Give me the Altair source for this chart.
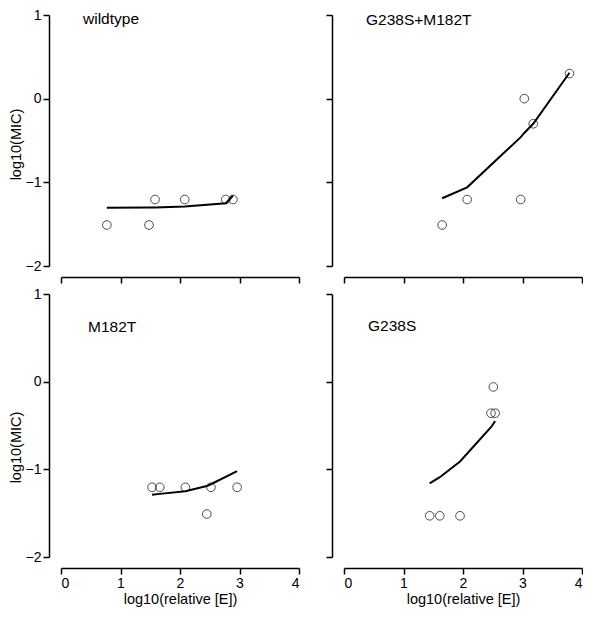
import altair as alt
import pandas as pd

# ---- data ----
panel_names = ["wildtype", "G238S+M182T", "M182T", "G238S"]

wt_x = [0.77, 1.48, 1.58, 2.08, 2.77, 2.89]
wt_y = [-1.51, -1.51, -1.205, -1.205, -1.205, -1.205]
wt_fit = [-1.305, -1.30, -1.30, -1.29, -1.25, -1.16]

gm_x = [1.65, 2.07, 2.97, 3.03, 3.18, 3.79]
gm_y = [-1.51, -1.205, -1.205, 0.0, -0.30, 0.30]
gm_fit = [-1.19, -1.06, -0.46, -0.41, -0.30, 0.31]

m_x = [1.53, 1.66, 2.09, 2.45, 2.52, 2.96]
m_y = [-1.205, -1.205, -1.205, -1.51, -1.205, -1.205]
m_fit = [-1.29, -1.28, -1.25, -1.19, -1.17, -1.02]

g_x = [1.44, 1.61, 1.95, 2.47, 2.51, 2.54]
g_y = [-1.53, -1.53, -1.53, -0.36, -0.06, -0.36]
g_fit = [-1.16, -1.09, -0.91, -0.52, -0.48, -0.45]

x_ticks = [0, 1, 2, 3, 4]
y_ticks = [-2, -1, 0, 1]
x_title = "log10(relative [E])"
y_title = "log10(MIC)"

FONT = "Liberation Sans"
W = 238
H_TOP, H_BOT = 251, 263


def panel(name, xs, ys, fit, lab_x, lab_y, show_x, show_y, h, title_y):
    pts = pd.DataFrame({"x": xs, "y": ys})
    fitdf = pd.DataFrame({"x": xs, "y": fit})
    lab = pd.DataFrame({"label": [name]})
    xscale = alt.Scale(domain=[0, 4], nice=False, zero=False)
    yscale = alt.Scale(domain=[-2, 1], nice=False, zero=False)
    xaxis_kw = dict(values=x_ticks, format="d", offset=11, tickSize=6, grid=False,
                    labels=show_x, labelPadding=2, titlePadding=2,
                    labelFontSize=14, titleFontSize=14.5, titleFontWeight="normal",
                    domainWidth=1.5, tickWidth=1.5)
    yaxis_kw = dict(values=y_ticks, format="d", offset=12, tickSize=6, grid=False,
                    labels=show_y, labelPadding=2, titlePadding=2,
                    labelFontSize=14, titleFontSize=14.5, titleFontWeight="normal",
                    domainWidth=1.5, tickWidth=1.5, titleY=title_y)
    if show_x:
        xaxis = alt.Axis(title=x_title, **xaxis_kw)
    else:
        xaxis = alt.Axis(title=None, **xaxis_kw)
    if show_y:
        yaxis = alt.Axis(title=y_title, **yaxis_kw)
    else:
        yaxis = alt.Axis(title=None, **yaxis_kw)

    points = alt.Chart(pts).mark_point(
        shape="circle", filled=False, color="black", size=75, strokeWidth=1
    ).encode(
        x=alt.X("x:Q", scale=xscale, axis=xaxis),
        y=alt.Y("y:Q", scale=yscale, axis=yaxis),
    )
    line = alt.Chart(fitdf).mark_line(color="black", strokeWidth=2).encode(
        x=alt.X("x:Q", scale=xscale), y=alt.Y("y:Q", scale=yscale)
    )
    text = alt.Chart(lab).mark_text(
        align="left", baseline="alphabetic", fontSize=15.5, font=FONT, color="black"
    ).encode(text="label:N", x=alt.value(lab_x), y=alt.value(lab_y))
    return alt.layer(points, line, text).properties(width=W, height=h)


p1 = panel(panel_names[0], wt_x, wt_y, wt_fit, 22, 9, False, True, H_TOP, 129)
p2 = panel(panel_names[1], gm_x, gm_y, gm_fit, 22, 9.5, False, False, H_TOP, 129)
p3 = panel(panel_names[2], m_x, m_y, m_fit, 27, 38, True, True, H_BOT, 153)
p4 = panel(panel_names[3], g_x, g_y, g_fit, 24, 37, True, False, H_BOT, 153)

chart = alt.concat(
    p1, p2, p3, p4, columns=2,
    spacing=alt.RowColnumber(row=28, column=45), bounds="flush"
).properties(
    padding={"left": 0, "top": 0, "right": 0, "bottom": 4}
).configure_view(stroke=None).configure_axis(
    domainColor="black", tickColor="black", labelColor="black", titleColor="black",
    labelFont=FONT, titleFont=FONT
)

chart.save("out.html", embed_options={"renderer": "svg", "actions": False})
